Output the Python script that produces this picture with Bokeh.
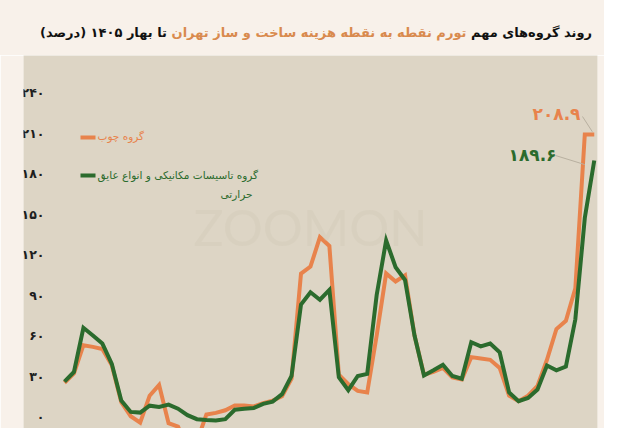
from bokeh.plotting import figure
from bokeh.models import Range1d, Label, ColumnDataSource, Div
from bokeh.layouts import column
from bokeh.core.properties import value
from bokeh.embed import file_html
from bokeh.resources import INLINE

# ---- data ----
periods = list(range(57))
wood = [25, 32, 52.8, 51.6, 50, 38, 10.6, 0.2, -4.6, 15.4, 23.4, -5, -7.5, -23, -18.5,
        1.4, 2.7, 4.6, 8.2, 8.2, 7.5, 9.9, 11.8, 15, 28, 105.8, 111, 132.8, 126.3, 31,
        23.9, 19, 17.8, 60, 106, 100, 104.6, 60, 31, 33, 36, 29, 27.5, 44, 43,
        42, 36, 15.4, 11.3, 15.4, 22.6, 42, 64.8, 70.9, 95, 208.9, 208.9]
mech = [25.8, 33, 65.7, 60, 54, 39, 11.8, 3.4, 2.9, 8, 7, 8.8, 5.8, 1, -2,
        -2.6, -3, -2, 5, 5.8, 6.3, 9.4, 11, 16.6, 30, 83, 92, 86.5, 93.8, 29,
        19.5, 30, 31.6, 90, 130.4, 110.6, 101, 60, 30.4, 34.2, 38.3, 30, 28, 55, 52,
        54, 47.5, 17.8, 11.3, 13.7, 20, 37.8, 34.2, 37, 72, 147, 189.6]
tick_values = [0, 30, 60, 90, 120, 150, 180, 210, 240]
tick_labels = ["۰", "۳۰", "۶۰", "۹۰", "۱۲۰", "۱۵۰", "۱۸۰", "۲۱۰", "۲۴۰"]
series_names = ["گروه چوب", "گروه تاسیسات مکانیکی و انواع عایق", "حرارتی"]
end_labels = ["۲۰۸.۹", "۱۸۹.۶"]
title_parts = ["روند گروه‌های مهم", "تورم نقطه به نقطه هزینه ساخت و ساز تهران", "تا بهار ۱۴۰۵ (درصد)"]

ORANGE = "#e8834c"
GREEN = "#2b6b2d"
TAN = "#ddd5c5"
CREAM = "#f8f1ea"
FONT = "DejaVu Sans"

W, H = 604, 428
TOP = 55            # height of the heading strip
# page-pixel -> data helpers (layout only)
XS = 9.46
YS = 1.35
def px2x(px):
    return (px - 64) / XS
def py2y(py):
    return (416 - py) / YS

# heading (multi-coloured, right-to-left)
heading = Div(
    text=(f'<div dir="rtl" style="margin:0;width:{W}px;box-sizing:border-box;'
          'padding:24px 12px 0 0;line-height:18px;'
          'font-family:\'DejaVu Sans\';font-weight:bold;font-size:13px;color:#111;'
          'text-align:right;white-space:nowrap;">'
          f'{title_parts[0]} <span style="color:#d98a4e">{title_parts[1]}</span> {title_parts[2]}</div>'),
    width=W, height=TOP,
    styles={"background-color": CREAM, "margin": "0", "padding": "0", "overflow": "hidden",
            "width": f"{W}px"})

p = figure(width=W, height=H - TOP, output_backend="svg", toolbar_location=None,
           x_range=Range1d(px2x(23), px2x(597)), y_range=Range1d(py2y(H), py2y(TOP)),
           x_axis_location=None, y_axis_location=None,
           min_border_left=23, min_border_right=W - 597, min_border_top=0, min_border_bottom=0)
p.background_fill_color = TAN
p.border_fill_color = CREAM
p.outline_line_color = None
p.xgrid.visible = False
p.ygrid.visible = False

# watermark
p.add_layout(Label(x=px2x(310), y=py2y(226), text="ZOOMON", text_align="center",
                   text_baseline="middle", text_font="Lato", text_font_size="50px",
                   text_color="#cbc2b0", text_alpha=0.25))

# tick labels
src_t = ColumnDataSource(dict(x=[px2x(44)] * len(tick_values), y=tick_values, t=tick_labels))
p.text(x="x", y="y", text="t", source=src_t, text_align="right", text_baseline="middle",
       text_font=value(FONT), text_font_size="12.5px", text_font_style="bold", text_color="#1e1e1e")

# lines
p.line(periods, wood, line_color=ORANGE, line_width=4, line_join="miter")
p.line(periods, mech, line_color=GREEN, line_width=4, line_join="miter")

# legend (manual)
p.segment(x0=[px2x(80)], y0=[py2y(137)], x1=[px2x(95)], y1=[py2y(137)], line_color=ORANGE, line_width=4)
p.segment(x0=[px2x(80)], y0=[py2y(175)], x1=[px2x(95)], y1=[py2y(175)], line_color=GREEN, line_width=4)
p.add_layout(Label(x=px2x(97), y=py2y(135), text=series_names[0], text_align="left",
                   text_baseline="middle", text_font=FONT, text_font_size="10.5px",
                   text_color=ORANGE))
p.add_layout(Label(x=px2x(97), y=py2y(174), text=series_names[1], text_align="left",
                   text_baseline="middle", text_font=FONT, text_font_size="10.5px",
                   text_color=GREEN))
p.add_layout(Label(x=px2x(252), y=py2y(193), text=series_names[2], text_align="right",
                   text_baseline="middle", text_font=FONT, text_font_size="10.5px",
                   text_color=GREEN))

# end labels with leader lines
p.segment(x0=[px2x(582)], y0=[py2y(116)], x1=[periods[-1] - 0.2], y1=[wood[-1] + 2],
          line_color="#b8b0a0", line_width=1)
p.segment(x0=[px2x(555)], y0=[py2y(155)], x1=[periods[-1] - 1.0], y1=[mech[-1] - 3],
          line_color="#b8b0a0", line_width=1)
p.add_layout(Label(x=px2x(556), y=py2y(113), text=end_labels[0], text_align="center",
                   text_baseline="middle", text_font=FONT, text_font_size="17px",
                   text_font_style="bold", text_color=ORANGE))
p.add_layout(Label(x=px2x(532), y=py2y(154), text=end_labels[1], text_align="center",
                   text_baseline="middle", text_font=FONT, text_font_size="17px",
                   text_font_style="bold", text_color=GREEN))

layout = column(heading, p, spacing=0)
open("out.html", "w").write(file_html(layout, INLINE))
